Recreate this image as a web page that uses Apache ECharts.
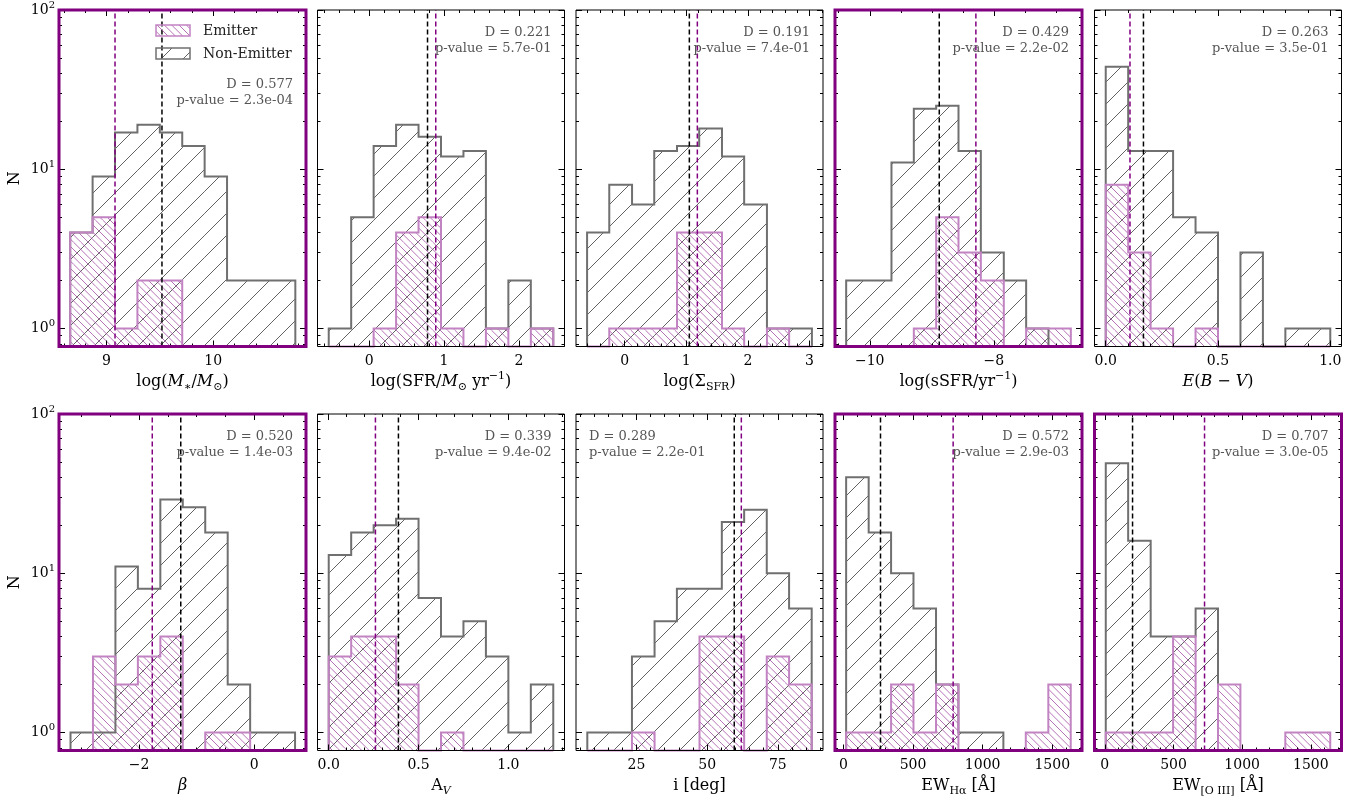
<!DOCTYPE html>
<html><head><meta charset="utf-8">
<script src="https://cdn.jsdelivr.net/npm/echarts@6/dist/echarts.min.js"></script>
<style>html,body{margin:0;padding:0;background:#fff}#c{width:1369px;height:804px}</style>
</head><body><div id="c"></div><script>
const FONT = 'DejaVu Serif';

// ---------- data ----------
const xAxisNames = [
  '{t|log(}{i|M}{s|∗}{t|/}{i|M}{s|⊙}{t|)}',
  '{t|log(SFR/}{i|M}{s|⊙}{t| yr}{u|−1}{t|)}',
  '{t|log(Σ}{s|SFR}{t|)}',
  '{t|log(sSFR/yr}{u|−1}{t|)}',
  '{i|E}{t|(}{i|B}{t| − }{i|V}{t|)}',
  '{i|β}',
  '{t|A}{si|V}',
  '{t|i [deg]}',
  '{t|EW}{s|Hα}{t| [Å]}',
  '{t|EW}{s|[O III]}{t| [Å]}'
];
const binEdges = [
  [8.66, 8.87, 9.08, 9.29, 9.50, 9.71, 9.92, 10.13, 10.34, 10.55, 10.77],
  [-0.54, -0.24, 0.06, 0.36, 0.66, 0.96, 1.26, 1.56, 1.86, 2.16, 2.46],
  [-0.61, -0.25, 0.12, 0.48, 0.85, 1.21, 1.58, 1.94, 2.31, 2.67, 3.04],
  [-10.38, -10.01, -9.65, -9.29, -8.93, -8.57, -8.21, -7.84, -7.48, -7.12, -6.76],
  [0, 0.1, 0.2, 0.3, 0.4, 0.5, 0.6, 0.7, 0.8, 0.9, 1.0],
  [-3.19, -2.80, -2.41, -2.02, -1.63, -1.24, -0.85, -0.46, -0.07, 0.32, 0.71],
  [0, 0.125, 0.25, 0.375, 0.5, 0.625, 0.75, 0.875, 1.0, 1.125, 1.25],
  [7.6, 15.5, 23.4, 31.4, 39.3, 47.3, 55.2, 63.1, 71.1, 79.0, 87.0],
  [19, 181, 342, 503, 665, 826, 988, 1149, 1310, 1472, 1633],
  [7, 170, 334, 497, 661, 824, 987, 1151, 1314, 1478, 1641]
];
const nonEmitterCounts = [
  [4, 9, 17, 19, 17, 14, 9, 2, 2, 2],
  [1, 5, 14, 19, 16, 12, 13, 1, 2, 1],
  [4, 8, 6, 13, 14, 18, 12, 6, 1, 1],
  [2, 2, 11, 24, 25, 13, 3, 2, 1, 0],
  [44, 13, 13, 5, 4, 0, 3, 0, 1, 1],
  [1, 1, 11, 8, 29, 26, 18, 2, 1, 1],
  [13, 18, 20, 22, 7, 4, 5, 3, 1, 2],
  [1, 1, 3, 5, 8, 8, 21, 25, 10, 6],
  [40, 18, 10, 6, 2, 1, 1, 0, 0, 0],
  [49, 16, 4, 4, 6, 0, 0, 0, 0, 0]
];
const emitterCounts = [
  [4, 5, 1, 2, 2, 0, 0, 0, 0, 0],
  [0, 0, 1, 4, 5, 1, 0, 1, 0, 1],
  [0, 1, 1, 1, 4, 4, 1, 0, 1, 0],
  [0, 0, 0, 1, 5, 3, 2, 0, 1, 1],
  [8, 3, 1, 0, 1, 0, 0, 0, 0, 0],
  [0, 3, 2, 3, 4, 0, 1, 1, 0, 0],
  [3, 4, 4, 2, 0, 1, 0, 0, 0, 0],
  [0, 0, 1, 0, 0, 4, 4, 0, 3, 2],
  [1, 1, 2, 1, 2, 0, 0, 0, 1, 2],
  [1, 1, 1, 4, 0, 2, 0, 0, 1, 1]
];
const medianEmitter = [9.08, 0.89, 1.18, -8.29, 0.108, -1.77, 0.26, 62.1, 788, 726];
const medianNonEmitter = [9.52, 0.78, 1.05, -8.88, 0.168, -1.275, 0.388, 59.6, 266, 202];
const ksD = ['0.577', '0.221', '0.191', '0.429', '0.263', '0.520', '0.339', '0.289', '0.572', '0.707'];
const ksP = ['2.3e-04', '5.7e-01', '7.4e-01', '2.2e-02', '3.5e-01', '1.4e-03', '9.4e-02', '2.2e-01', '2.9e-03', '3.0e-05'];
const significant = [true, false, false, true, false, true, false, false, true, true];
const xLimits = [[8.555, 10.87], [-0.69, 2.61], [-0.79, 3.22], [-10.56, -6.58], [-0.05, 1.05],
  [-3.39, 0.90], [-0.0625, 1.3125], [3.6, 91.0], [-61, 1714], [-75, 1723]];
const xMajorTicks = [[9, 10], [0, 1, 2], [0, 1, 2, 3], [-10, -8], [0, 0.5, 1.0], [-2, 0], [0, 0.5, 1.0],
  [25, 50, 75], [0, 500, 1000, 1500], [0, 500, 1000, 1500]];
const xMinorStep = [0.2, 0.2, 0.2, 0.5, 0.1, 0.5, 0.1, 5, 100, 100];
const xTickDecimals = [0, 0, 0, 0, 1, 0, 1, 0, 0, 0];
const yMajorTicks = [1, 10, 100];
const yMinorTicks = [0.8, 0.9, 2, 3, 4, 5, 6, 7, 8, 9, 20, 30, 40, 50, 60, 70, 80, 90];
const yRange = [0.77, 100];
const legendNames = ['Emitter', 'Non-Emitter'];

// ---------- layout / style ----------
const gridLefts = [59, 317.5, 576, 835, 1094.5];
const rowTops = [10, 414];
const gridW = 247, gridH = 336.5;
const textTop = [[33, 49], [437, 453]];
const textTopFirst = [85, 101];

function hatch(color, dir, n, size, lw) {
  const c = document.createElement('canvas');
  c.width = size; c.height = size;
  const g = c.getContext('2d');
  g.strokeStyle = color; g.lineWidth = lw;
  const step = size / n;
  for (let k = -n; k <= 2 * n; k++) {
    const o = k * step;
    g.beginPath();
    if (dir === '/') { g.moveTo(o, 0); g.lineTo(o - size, size); }
    else { g.moveTo(o, 0); g.lineTo(o + size, size); }
    g.stroke();
  }
  return { image: c, repeat: 'repeat' };
}
const patNon = hatch('rgba(50,50,50,0.85)', '/', 1, 22, 0.9);
const patEm = hatch('rgba(165,80,165,0.9)', '\\', 3, 22, 0.9);
const outNon = '#707070', outEm = '#c283c2';

function minorList(lim, step, majors) {
  const out = [];
  const start = Math.ceil(lim[0] / step - 1e-9);
  for (let k = start; k * step <= lim[1] + 1e-9; k++) {
    const v = +(k * step).toFixed(6);
    if (!majors.some(m => Math.abs(m - v) < step * 1e-3)) out.push(v);
  }
  return out;
}

const richName = {
  t: { fontFamily: FONT, fontSize: 16, lineHeight: 22, color: '#000' },
  i: { fontFamily: FONT, fontSize: 16, lineHeight: 22, fontStyle: 'italic', color: '#000' },
  s: { fontFamily: FONT, fontSize: 11, lineHeight: 11, verticalAlign: 'bottom', color: '#000' },
  si: { fontFamily: FONT, fontSize: 11, lineHeight: 11, verticalAlign: 'bottom', fontStyle: 'italic', color: '#000' },
  u: { fontFamily: FONT, fontSize: 11, lineHeight: 11, verticalAlign: 'top', color: '#000' }
};
const richY = {
  b: { fontFamily: FONT, fontSize: 14, lineHeight: 20, color: '#000' },
  e: { fontFamily: FONT, fontSize: 10, lineHeight: 10, verticalAlign: 'top', color: '#000' }
};

const grids = [], xAxes = [], yAxes = [], series = [], graphics = [];

for (let p = 0; p < 10; p++) {
  const row = Math.floor(p / 5), col = p % 5;
  const left = gridLefts[col], top = rowTops[row];
  grids.push({ left: left, top: top, width: gridW, height: gridH });
  const lim = xLimits[p];
  const majors = xMajorTicks[p];
  const minors = minorList(lim, xMinorStep[p], majors);
  const dec = xTickDecimals[p];
  const xBase = { type: 'value', gridIndex: p, min: lim[0], max: lim[1], z: 6,
    axisLine: { show: false, onZero: false }, splitLine: { show: false } };
  const xi = xAxes.length;
  xAxes.push(Object.assign({}, xBase, {
    position: 'bottom',
    axisTick: { show: true, inside: true, length: 6, customValues: majors, lineStyle: { color: '#000', width: 1 } },
    axisLabel: { show: true, customValues: majors, margin: 8, fontFamily: FONT, fontSize: 14, color: '#000',
      formatter: v => Number(v).toFixed(dec).replace('-', '\u2212') },
    name: xAxisNames[p], nameLocation: 'middle', nameGap: 24,
    nameTextStyle: { fontFamily: FONT, fontSize: 16, color: '#000', rich: richName }
  }));
  xAxes.push(Object.assign({}, xBase, { position: 'bottom', axisLabel: { show: false },
    axisTick: { show: true, inside: true, length: 3, customValues: minors, lineStyle: { color: '#000', width: 1 } } }));
  xAxes.push(Object.assign({}, xBase, { position: 'top', axisLabel: { show: false },
    axisTick: { show: true, inside: true, length: 6, customValues: majors, lineStyle: { color: '#000', width: 1 } } }));
  xAxes.push(Object.assign({}, xBase, { position: 'top', axisLabel: { show: false },
    axisTick: { show: true, inside: true, length: 3, customValues: minors, lineStyle: { color: '#000', width: 1 } } }));

  const yBase = { type: 'log', logBase: 10, gridIndex: p, min: yRange[0], max: yRange[1], z: 6,
    axisLine: { show: false, onZero: false }, splitLine: { show: false } };
  const yi = yAxes.length;
  const yMain = Object.assign({}, yBase, {
    position: 'left',
    axisTick: { show: true, inside: true, length: 6, customValues: yMajorTicks, lineStyle: { color: '#000', width: 1 } },
    axisLabel: { show: col === 0, customValues: yMajorTicks, margin: 4,
      formatter: v => '{b|10}{e|' + Math.round(Math.log10(v)) + '}', rich: richY }
  });
  if (col === 0) {
    yMain.name = 'N'; yMain.nameLocation = 'middle'; yMain.nameGap = 36; yMain.nameRotate = 90;
    yMain.nameTextStyle = { fontFamily: FONT, fontSize: 16, color: '#000' };
  }
  yAxes.push(yMain);
  yAxes.push(Object.assign({}, yBase, { position: 'left', axisLabel: { show: false },
    axisTick: { show: true, inside: true, length: 3, customValues: yMinorTicks, lineStyle: { color: '#000', width: 1 } } }));
  yAxes.push(Object.assign({}, yBase, { position: 'right', axisLabel: { show: false },
    axisTick: { show: true, inside: true, length: 6, customValues: yMajorTicks, lineStyle: { color: '#000', width: 1 } } }));
  yAxes.push(Object.assign({}, yBase, { position: 'right', axisLabel: { show: false },
    axisTick: { show: true, inside: true, length: 3, customValues: yMinorTicks, lineStyle: { color: '#000', width: 1 } } }));

  const edges = binEdges[p];
  const hists = [
    { name: 'Non-Emitter', counts: nonEmitterCounts[p], pat: patNon, stroke: outNon },
    { name: 'Emitter', counts: emitterCounts[p], pat: patEm, stroke: outEm }
  ];
  hists.forEach(h => {
    const data = h.counts.map((c, i) => [edges[i], edges[i + 1], c]);
    series.push({
      type: 'custom', name: h.name, xAxisIndex: xi, yAxisIndex: yi, z: 2, silent: true,
      encode: { x: [0, 1], y: 2 },
      data: data,
      renderItem: (params, api) => {
        const x0 = api.value(0), x1 = api.value(1), c = api.value(2);
        if (!(c > 0)) return null;
        const a = api.coord([x0, c]);
        const b = api.coord([x1, yRange[0]]);
        return { type: 'rect', shape: { x: a[0], y: a[1], width: b[0] - a[0], height: b[1] - a[1] },
          style: { fill: h.pat } };
      }
    });
  });
  hists.forEach(h => {
    series.push({
      type: 'custom', name: h.name + ' outline', xAxisIndex: xi, yAxisIndex: yi, z: 3, silent: true,
      encode: { x: [0, 1], y: 2 },
      data: [[edges[0], edges[edges.length - 1], 1]],
      renderItem: (params, api) => {
        const pts = [];
        const bottom = yRange[0];
        let prev = bottom;
        h.counts.forEach((c, i) => {
          const y = c > 0 ? c : bottom;
          pts.push(api.coord([edges[i], prev]));
          pts.push(api.coord([edges[i], y]));
          pts.push(api.coord([edges[i + 1], y]));
          prev = y;
        });
        pts.push(api.coord([edges[edges.length - 1], bottom]));
        return { type: 'polyline', shape: { points: pts },
          style: { stroke: h.stroke, lineWidth: 2, fill: 'none', lineJoin: 'miter' } };
      }
    });
  });
  [[medianEmitter[p], '#800080'], [medianNonEmitter[p], '#000']].forEach(([m, col2]) => {
    series.push({ type: 'line', xAxisIndex: xi, yAxisIndex: yi, z: 4, silent: true, symbol: 'none',
      data: [[m, yRange[0]], [m, yRange[1]]],
      lineStyle: { color: col2, width: 1.5, type: [5, 3] } });
  });

  // panel frame
  graphics.push({ type: 'rect', silent: true, z: 100,
    shape: { x: left, y: top, width: gridW, height: gridH },
    style: { fill: 'none', stroke: significant[p] ? '#800080' : '#000', lineWidth: significant[p] ? 3 : 1 } });
  // KS text
  const ty = p === 0 ? textTopFirst : textTop[row];
  const leftText = p === 7;
  const tx = leftText ? left + 13 : left + gridW - 13;
  [['D = ' + ksD[p], ty[0]], ['p-value = ' + ksP[p], ty[1]]].forEach(([txt, yy]) => {
    graphics.push({ type: 'text', silent: true, z: 90, x: tx, y: yy,
      style: { text: txt, fill: '#555', font: '13px "DejaVu Serif"', align: leftText ? 'left' : 'right', verticalAlign: 'middle' } });
  });
}

// legend (panel 1)
[[legendNames[0], 25, patEm, outEm], [legendNames[1], 48, patNon, outNon]].forEach(([nm, yy, pat, st]) => {
  graphics.push({ type: 'rect', silent: true, z: 90, shape: { x: 156, y: yy, width: 34, height: 11 },
    style: { fill: pat, stroke: st, lineWidth: 1.5 } });
  graphics.push({ type: 'text', silent: true, z: 90, x: 203, y: yy + 6,
    style: { text: nm, fill: '#222', font: '14px "DejaVu Serif"', align: 'left', verticalAlign: 'middle' } });
});

const chart = echarts.init(document.getElementById('c'), null, { renderer: 'canvas' });
chart.setOption({
  animation: false,
  backgroundColor: '#fff',
  grid: grids, xAxis: xAxes, yAxis: yAxes, series: series, graphic: graphics
});
</script></body></html>
